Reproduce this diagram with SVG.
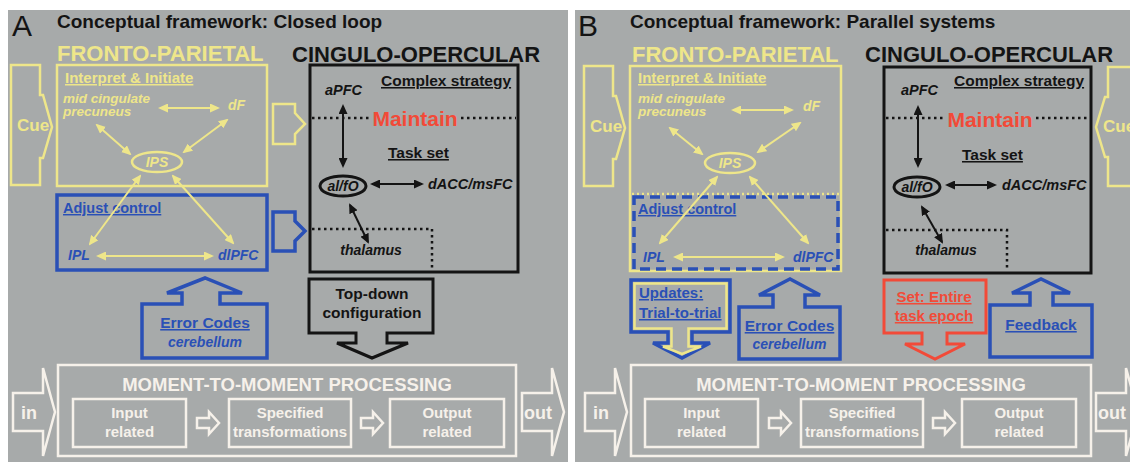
<svg xmlns="http://www.w3.org/2000/svg" width="1130" height="464" viewBox="0 0 1130 464">
<defs>
<style>
text{font-family:'Liberation Sans',Arial,Helvetica,sans-serif;font-weight:bold}
.y{fill:#eee68a}.b{fill:#2a50b6}.k{fill:#141414}.w{fill:#f6f1ea}.r{fill:#f24a38}
.it{font-style:italic}
.u{text-decoration:underline}
.m{text-anchor:middle}
.letter{font-weight:normal}
.ys{fill:none;stroke:#eee68a;stroke-width:2.5}
.bs{fill:none;stroke:#2a50b6;stroke-width:3.5}
.ks{fill:none;stroke:#141414;stroke-width:3}
.ws{fill:none;stroke:#f6f1ea;stroke-width:2.5}
.rs{fill:none;stroke:#f24a38;stroke-width:3}
.dot{fill:none;stroke:#141414;stroke-width:2.5;stroke-dasharray:2.5 3.5}
.ya{fill:none;stroke:#eee68a;stroke-width:2;marker-start:url(#ay);marker-end:url(#ay)}
.ka{fill:none;stroke:#141414;stroke-width:2;marker-start:url(#ak);marker-end:url(#ak)}
.bg{fill:#a7aaaa}
</style>
<marker id="ay" viewBox="0 0 10 9" refX="8" refY="4.5" markerWidth="10" markerHeight="9" markerUnits="userSpaceOnUse" orient="auto-start-reverse"><path d="M0,0 L10,4.5 L0,9 z" fill="#eee68a"/></marker>
<marker id="ak" viewBox="0 0 10 9" refX="8" refY="4.5" markerWidth="10" markerHeight="9" markerUnits="userSpaceOnUse" orient="auto-start-reverse"><path d="M0,0 L10,4.5 L0,9 z" fill="#141414"/></marker>
</defs>

<rect width="1130" height="464" fill="#ffffff"/>
<rect class="bg" x="8" y="10" width="560" height="452"/>
<rect class="bg" x="575" y="10" width="555" height="452"/>

<!-- ===== Panel A: closed loop ===== -->
<g id="a-heading">
<text x="12" y="36" font-size="30" class="k letter">A</text>
<text x="57" y="28" font-size="19" class="k">Conceptual framework: Closed loop</text>
<text x="57" y="61" font-size="22" class="y">FRONTO-PARIETAL</text>
<text x="292" y="62" font-size="22" class="k">CINGULO-OPERCULAR</text>
</g>

<g id="a-cue">
<path class="ys" d="M11,65 H40 V95 H43 L52,127 L43,158 H40 V185 H11 Z"/>
<text x="17" y="131" font-size="17" class="y">Cue</text>
</g>

<g id="a-interpret">
<rect class="ys" x="57" y="65" width="210" height="121"/>
<text x="65" y="83" font-size="15" class="y u">Interpret &amp; Initiate</text>
<text x="63" y="103" font-size="13.5" class="y it">mid cingulate</text>
<text x="63" y="116" font-size="13.5" class="y it">precuneus</text>
<text x="228" y="110" font-size="14" class="y it">dF</text>
<ellipse class="ys" cx="157" cy="162" rx="25" ry="10"/>
<text x="157" y="167" font-size="14" class="y it m">IPS</text>
</g>

<g id="a-adjust">
<rect class="bs" x="57" y="195" width="210" height="75"/>
<text x="63" y="213" font-size="14.5" class="b u">Adjust control</text>
<text x="68" y="260" font-size="14" class="b it">IPL</text>
<text x="218" y="260" font-size="14" class="b it">dlPFC</text>
</g>

<g id="a-fp-to-co">
<path class="ys" d="M273,104 H295 V113 L305,124 L295,134 V144 H273 Z"/>
<path class="bs" stroke-width="3" d="M273,212 H295 V221 L305,231 L295,241 V251 H273 Z"/>
</g>

<g id="a-cingulo">
<rect class="ks" x="310" y="65" width="208" height="207"/>
<text x="381" y="86" font-size="15.5" class="k u">Complex strategy</text>
<text x="325" y="95" font-size="14.5" class="k it">aPFC</text>
<path class="dot" d="M312,118 H370 M461,118 H516"/>
<text x="415" y="126" font-size="21" class="r m">Maintain</text>
<text x="388" y="158" font-size="15.5" class="k u">Task set</text>
<ellipse class="ks" stroke-width="2" cx="343" cy="186" rx="23" ry="10"/>
<text x="343" y="191" font-size="14" class="k it m">al/fO</text>
<text x="428" y="189" font-size="14.5" class="k it">dACC/msFC</text>
<path class="dot" d="M312,229 H432 V268"/>
<text x="371" y="255" font-size="14" class="k it m">thalamus</text>
</g>

<g id="a-topdown">
<path class="ks" d="M309,279 H433 V333 H387 V343 H408 L372,358 L337,343 H356 V333 H309 Z"/>
<text x="372" y="299" font-size="15.5" class="k m">Top-down</text>
<text x="372" y="318" font-size="15.5" class="k m">configuration</text>
</g>

<g id="a-error">
<path class="bs" stroke-width="3" d="M142,304 H182 V293 H167 L205,278 L242,293 H220 V304 H267 V358 H142 Z"/>
<text x="205" y="328" font-size="15.5" class="b u m">Error Codes</text>
<text x="205" y="347" font-size="14" class="b it m">cerebellum</text>
</g>

<g id="a-moment">
<rect class="ws" x="58" y="365" width="458" height="91"/>
<text x="287" y="391" font-size="18.5" class="w m">MOMENT-TO-MOMENT PROCESSING</text>
<path class="ws" d="M13,393 H43 V368 L55,412 L43,456 V431 H13 Z"/>
<text x="21" y="419" font-size="18" class="w">in</text>
<path class="ws" d="M522,393 H552 V368 L564,412 L552,456 V431 H522 Z"/>
<text x="524" y="419" font-size="18" class="w">out</text>
<rect class="ws" x="73" y="399" width="113" height="48"/>
<text x="129.5" y="418" font-size="15" class="w m">Input</text>
<text x="129.5" y="437" font-size="15" class="w m">related</text>
<path class="ws" stroke-width="2" d="M197,418 H209 V412 L219,423 L209,434 V428 H197 Z"/>
<rect class="ws" x="229" y="399" width="122" height="48"/>
<text x="290" y="418" font-size="15" class="w m">Specified</text>
<text x="290" y="437" font-size="15" class="w m">transformations</text>
<path class="ws" stroke-width="2" d="M361,418 H373 V412 L383,423 L373,434 V428 H361 Z"/>
<rect class="ws" x="390" y="399" width="114" height="48"/>
<text x="447" y="418" font-size="15" class="w m">Output</text>
<text x="447" y="437" font-size="15" class="w m">related</text>
</g>

<!-- ===== Panel B: parallel systems ===== -->
<g id="b-heading">
<text x="578" y="36" font-size="30" class="k letter">B</text>
<text x="630" y="28" font-size="19" class="k">Conceptual framework: Parallel systems</text>
<text x="632" y="62" font-size="22" class="y">FRONTO-PARIETAL</text>
<text x="865" y="62" font-size="22" class="k">CINGULO-OPERCULAR</text>
</g>

<g id="b-cue-left">
<path class="ys" d="M584,66 H613 V96 H616 L625,128 L616,159 H613 V186 H584 Z"/>
<text x="590" y="132" font-size="17" class="y">Cue</text>
</g>

<g id="b-cue-right">
<path class="ys" d="M1134,67 H1108 V97 H1105 L1096,127 L1105,157 H1108 V186 H1134"/>
<text x="1103" y="132" font-size="17" class="y">Cue</text>
</g>

<g id="b-frontoparietal">
<rect class="ys" x="630" y="66" width="211" height="205"/>
<text x="638" y="83" font-size="15" class="y u">Interpret &amp; Initiate</text>
<text x="638" y="103" font-size="13.5" class="y it">mid cingulate</text>
<text x="638" y="116" font-size="13.5" class="y it">precuneus</text>
<text x="803" y="111" font-size="14" class="y it">dF</text>
<ellipse class="ys" cx="730" cy="163" rx="25" ry="10"/>
<text x="730" y="168" font-size="14" class="y it m">IPS</text>
<path class="ys" stroke-width="2" stroke-dasharray="2 3" d="M632,194 H839"/>
</g>

<g id="b-adjust">
<rect class="bs" stroke-width="3" stroke-dasharray="10 6" x="634" y="197" width="204" height="72"/>
<text x="638" y="214" font-size="14.5" class="b u">Adjust control</text>
<text x="643" y="262" font-size="14" class="b it">IPL</text>
<text x="793" y="262" font-size="14" class="b it">dlPFC</text>
</g>

<g id="b-cingulo">
<rect class="ks" x="884" y="67" width="207" height="206"/>
<text x="954" y="86" font-size="15.5" class="k u">Complex strategy</text>
<text x="901" y="95" font-size="14.5" class="k it">aPFC</text>
<path class="dot" d="M886,118 H945 M1036,118 H1089"/>
<text x="990" y="127" font-size="21" class="r m">Maintain</text>
<text x="962" y="160" font-size="15.5" class="k u">Task set</text>
<ellipse class="ks" stroke-width="2" cx="917" cy="187" rx="23" ry="10"/>
<text x="917" y="192" font-size="14" class="k it m">al/fO</text>
<text x="1002" y="190" font-size="14.5" class="k it">dACC/msFC</text>
<path class="dot" d="M886,230 H1007 V269"/>
<text x="946" y="255" font-size="14" class="k it m">thalamus</text>
</g>

<g id="b-updates">
<path class="bs" stroke-width="3" d="M631,280 H730 V332 H692 V343 H710 L682,358 L653,343 H668 V332 H631 Z"/>
<path class="ys" stroke-width="2" d="M634.5,283.5 H726.5 V328.5 H688.5 V346.5 H701 L682,354 L663,346.5 H671.5 V328.5 H634.5 Z"/>
<text x="639" y="298" font-size="15" class="b u">Updates:</text>
<text x="639" y="318" font-size="15" class="b u">Trial-to-trial</text>
</g>

<g id="b-error">
<path class="bs" stroke-width="3" d="M739,307 H773 V295 H759 L790,279 L820,295 H805 V307 H840 V359 H739 Z"/>
<text x="789.5" y="331" font-size="15.5" class="b u m">Error Codes</text>
<text x="789.5" y="349" font-size="14" class="b it m">cerebellum</text>
</g>

<g id="b-set">
<path class="rs" d="M884,280 H986 V333 H947 V344 H965 L935,359 L905,344 H922 V333 H884 Z"/>
<text x="934" y="302" font-size="15" class="r u m">Set: Entire</text>
<text x="934" y="321" font-size="15" class="r u m">task epoch</text>
</g>

<g id="b-feedback">
<path class="bs" stroke-width="3" d="M990,305 H1030 V293 H1012 L1041,279 L1070,293 H1053 V305 H1092 V357 H990 Z"/>
<text x="1041" y="330" font-size="15.5" class="b u m">Feedback</text>
</g>

<g id="b-moment">
<rect class="ws" x="631" y="365" width="460" height="91"/>
<text x="861" y="391" font-size="18.5" class="w m">MOMENT-TO-MOMENT PROCESSING</text>
<path class="ws" d="M585,393 H615 V368 L627,412 L615,456 V431 H585 Z"/>
<text x="593" y="419" font-size="18" class="w">in</text>
<path class="ws" d="M1096,393 H1126 V368 L1138,412 L1126,456 V431 H1096 Z"/>
<text x="1098" y="419" font-size="18" class="w">out</text>
<rect class="ws" x="645" y="399" width="113" height="48"/>
<text x="701.5" y="418" font-size="15" class="w m">Input</text>
<text x="701.5" y="437" font-size="15" class="w m">related</text>
<path class="ws" stroke-width="2" d="M769,418 H781 V412 L791,423 L781,434 V428 H769 Z"/>
<rect class="ws" x="801" y="399" width="122" height="48"/>
<text x="862" y="418" font-size="15" class="w m">Specified</text>
<text x="862" y="437" font-size="15" class="w m">transformations</text>
<path class="ws" stroke-width="2" d="M933,418 H945 V412 L955,423 L945,434 V428 H933 Z"/>
<rect class="ws" x="962" y="399" width="114" height="48"/>
<text x="1019" y="418" font-size="15" class="w m">Output</text>
<text x="1019" y="437" font-size="15" class="w m">related</text>
</g>

<!-- ===== Connectors ===== -->
<g id="connectors">
<!-- panel A -->
<line class="ya" x1="160" y1="108" x2="218" y2="108"/>
<line class="ya" x1="97" y1="125" x2="130" y2="154"/>
<line class="ya" x1="227" y1="120" x2="184" y2="152"/>
<line class="ya" x1="140" y1="176" x2="90" y2="244"/>
<line class="ya" x1="173" y1="176" x2="233" y2="243"/>
<line class="ya" x1="98" y1="256" x2="212" y2="256"/>
<line class="ka" x1="343" y1="106" x2="343" y2="166"/>
<line class="ka" x1="372" y1="184" x2="422" y2="184"/>
<line class="ka" x1="350" y1="205" x2="368" y2="242"/>
<!-- panel B -->
<line class="ya" x1="733" y1="110" x2="792" y2="110"/>
<line class="ya" x1="670" y1="128" x2="702" y2="154"/>
<line class="ya" x1="800" y1="123" x2="758" y2="152"/>
<line class="ya" x1="717" y1="177" x2="660" y2="243"/>
<line class="ya" x1="750" y1="177" x2="808" y2="243"/>
<line class="ya" x1="675" y1="257" x2="783" y2="257"/>
<line class="ka" x1="918" y1="107" x2="918" y2="166"/>
<line class="ka" x1="947" y1="185" x2="995" y2="185"/>
<line class="ka" x1="922" y1="207" x2="942" y2="242"/>
</g>
</svg>
